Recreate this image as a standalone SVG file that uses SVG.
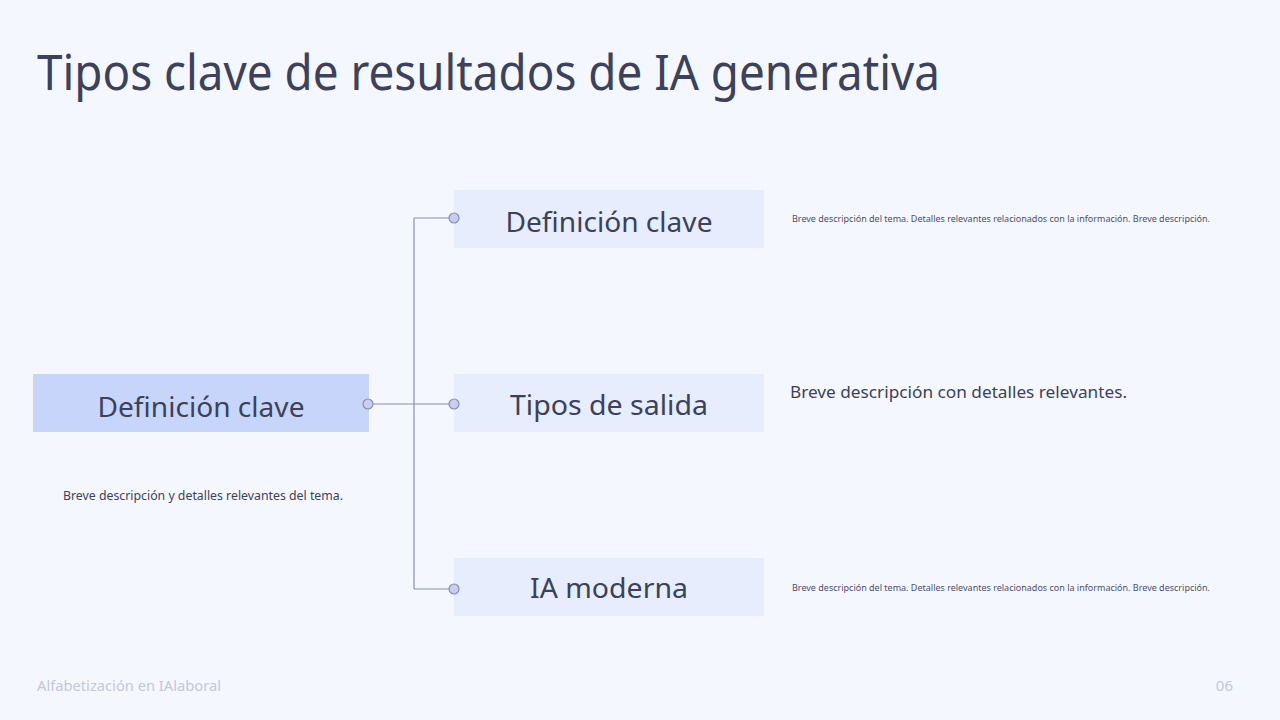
<svg xmlns="http://www.w3.org/2000/svg" width="1280" height="720" viewBox="0 0 1280 720">
<style>
text{font-family:"Noto Sans","Open Sans","Liberation Sans",sans-serif;fill:#3b4259}
.t{font-size:28px}
.box{fill:#e7edfc}
.main{fill:#c8d5fb}
.ln{stroke:#8b8fa6;stroke-width:1.2;fill:none}
.dot{fill:#c9cdf2;stroke:#8a8fb0;stroke-width:1.2}
.sm{font-size:9.5px;fill:#4a5068}
.foot{font-size:15px;fill:#c3c7d8}
</style>
<rect width="1280" height="720" fill="#f5f7fe"/>
<text x="37" y="90" font-size="50" textLength="903" lengthAdjust="spacingAndGlyphs">Tipos clave de resultados de IA generativa</text>
<g id="node-main">
<rect class="main" x="33" y="374" width="336" height="58"/>
<text class="t" x="201" y="417" text-anchor="middle" textLength="207" lengthAdjust="spacingAndGlyphs">Definición clave</text>
<text x="203" y="500" font-size="12.5" text-anchor="middle" textLength="280" lengthAdjust="spacingAndGlyphs" fill="#4a5068">Breve descripción y detalles relevantes del tema.</text>
</g>
<g id="node-def">
<rect class="box" x="454" y="190" width="310" height="58"/>
<text class="t" x="609" y="232" text-anchor="middle" textLength="207" lengthAdjust="spacingAndGlyphs">Definición clave</text>
<text class="sm" x="792" y="222" textLength="418" lengthAdjust="spacingAndGlyphs">Breve descripción del tema. Detalles relevantes relacionados con la información. Breve descripción.</text>
</g>
<g id="node-tipos">
<rect class="box" x="454" y="374" width="310" height="58"/>
<text class="t" x="609" y="415" text-anchor="middle" textLength="198" lengthAdjust="spacingAndGlyphs">Tipos de salida</text>
<text x="790" y="398" font-size="17" textLength="337" lengthAdjust="spacingAndGlyphs" fill="#4a5068">Breve descripción con detalles relevantes.</text>
</g>
<g id="node-ia">
<rect class="box" x="454" y="558" width="310" height="58"/>
<text class="t" x="609" y="598" text-anchor="middle" textLength="158" lengthAdjust="spacingAndGlyphs">IA moderna</text>
<text class="sm" x="792" y="591" textLength="418" lengthAdjust="spacingAndGlyphs">Breve descripción del tema. Detalles relevantes relacionados con la información. Breve descripción.</text>
</g>
<g id="connectors">
<path class="ln" d="M368 404H454M414 218V589M414 218H454M414 589H454"/>
<circle class="dot" cx="368" cy="404" r="5"/>
<circle class="dot" cx="454" cy="218" r="5"/>
<circle class="dot" cx="454" cy="404" r="5"/>
<circle class="dot" cx="454" cy="589" r="5"/>
</g>
<text class="foot" x="37" y="691" textLength="184" lengthAdjust="spacingAndGlyphs">Alfabetización en IAlaboral</text>
<text class="foot" x="1233" y="691" text-anchor="end">06</text>
</svg>
